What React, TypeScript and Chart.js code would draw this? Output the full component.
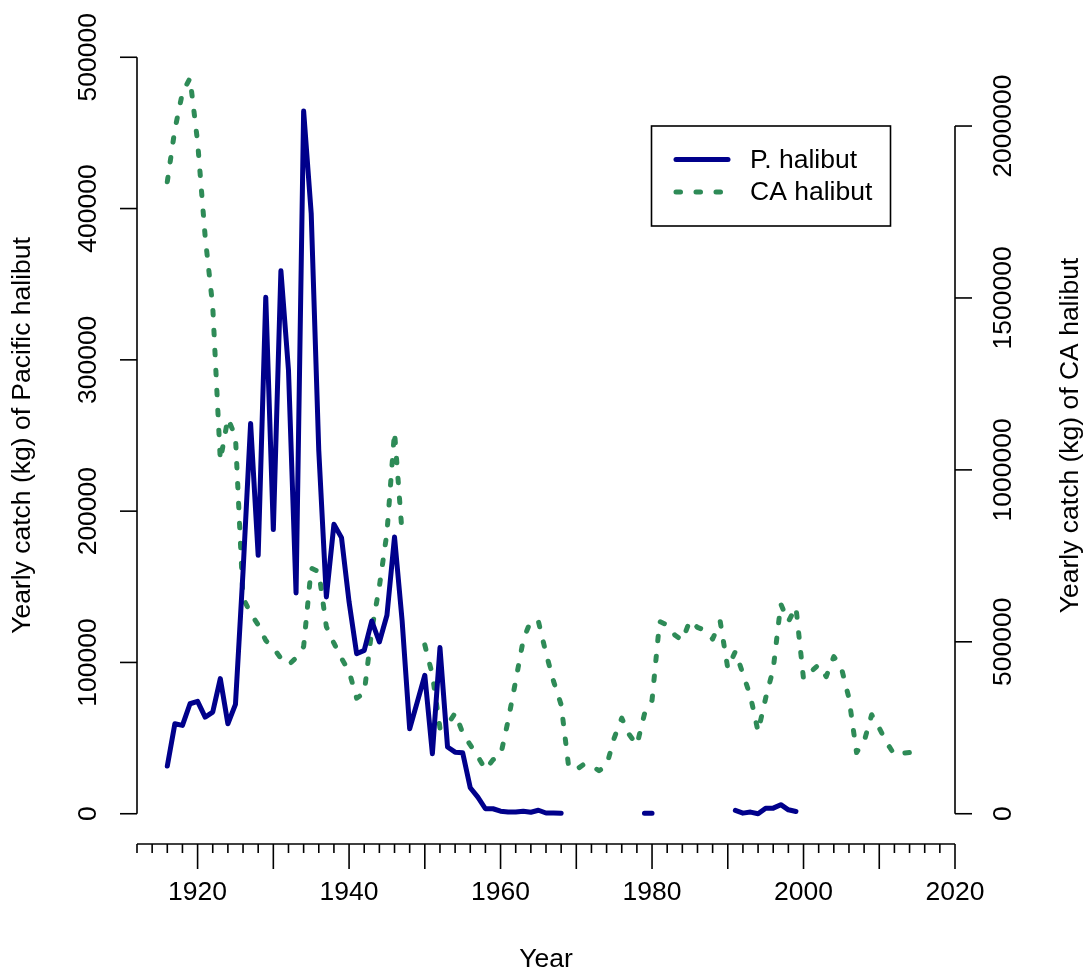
import React, { useEffect, useRef } from "react";
import { Chart, registerables } from "chart.js";

Chart.register(...registerables);

const years = [
  1916, 1917, 1918, 1919, 1920, 1921, 1922, 1923, 1924, 1925,
  1926, 1927, 1928, 1929, 1930, 1931, 1932, 1933, 1934, 1935,
  1936, 1937, 1938, 1939, 1940, 1941, 1942, 1943, 1944, 1945,
  1946, 1947, 1948, 1949, 1950, 1951, 1952, 1953, 1954, 1955,
  1956, 1957, 1958, 1959, 1960, 1961, 1962, 1963, 1964, 1965,
  1966, 1967, 1968, 1969, 1970, 1971, 1972, 1973, 1974, 1975,
  1976, 1977, 1978, 1979, 1980, 1981, 1982, 1983, 1984, 1985,
  1986, 1987, 1988, 1989, 1990, 1991, 1992, 1993, 1994, 1995,
  1996, 1997, 1998, 1999, 2000, 2001, 2002, 2003, 2004, 2005,
  2006, 2007, 2008, 2009, 2010, 2011, 2012, 2013, 2014,
];

const pacificHalibut = [
  31500, 59500, 58400, 72700, 74300, 63900, 67200, 89300, 59500, 72300,
  160000, 258000, 170800, 341300, 187800, 358900, 293200, 145900, 464500, 396800,
  240000, 143300, 191300, 182500, 140000, 105800, 108000, 127400, 113500, 131200,
  182900, 127800, 56200, 73800, 91500, 39700, 109800, 44100, 40700, 40300,
  17200, 11000, 3300, 3300, 1700, 1100, 1100, 1700, 1000, 2300,
  500, 500, 300, null, null, null, null, null, null, null,
  null, null, null, 300, 300, null, null, null, null, null,
  null, null, null, null, null, 2200, 400, 1100, 0, 3700,
  3700, 6000, 2600, 1500, null, null, null, null, null, null,
  null, null, null, null, null, null, null, null, null,
];

const caHalibut = [
  1838000, 1990000, 2097000, 2139000, 1954000, 1678000, 1475000, 1027000, 1150000, 1097000,
  627000, 583000, 549000, 504000, 482000, 452000, 433000, 453000, 486000, 714000,
  704000, 544000, 496000, 452000, 414000, 336000, 351000, 535000, 661000, 817000,
  1111000, 816000, null, null, 491000, 404000, 249000, 259000, 293000, 235000,
  200000, 167000, 128000, 157000, 169000, 271000, 387000, 506000, 562000, 559000,
  467000, 385000, 317000, 135000, 128000, 144000, 140000, 125000, 140000, 220000,
  278000, 230000, 200000, 290000, 330000, 559000, 549000, 520000, 504000, 562000,
  542000, 533000, 508000, 559000, 423000, 472000, 407000, 341000, 239000, 336000,
  421000, 610000, 559000, 601000, 392000, 414000, 433000, 399000, 457000, 424000,
  336000, 178000, 210000, 288000, 249000, 206000, 172000, 176000, 178000,
];

const xMinorTicks = [
  1912, 1914, 1916, 1918, 1920, 1922, 1924, 1926, 1928, 1930, 1932, 1934, 1936, 1938,
  1940, 1942, 1944, 1946, 1948, 1950, 1952, 1954, 1956, 1958, 1960, 1962, 1964, 1966,
  1968, 1970, 1972, 1974, 1976, 1978, 1980, 1982, 1984, 1986, 1988, 1990, 1992, 1994,
  1996, 1998, 2000, 2002, 2004, 2006, 2008, 2010, 2012, 2014, 2016, 2018, 2020,
];
const xMajorTicks = [1920, 1930, 1940, 1950, 1960, 1970, 1980, 1990, 2000, 2010, 2020];
const xLabelTicks = [1920, 1940, 1960, 1980, 2000, 2020];
const leftTicks = [0, 100000, 200000, 300000, 400000, 500000];
const rightTicks = [0, 500000, 1000000, 1500000, 2000000];

const seriesNames = ["P. halibut", "CA halibut"];
const xTitle = "Year";
const leftTitle = "Yearly catch (kg) of Pacific halibut";
const rightTitle = "Yearly catch (kg) of CA halibut";

const BLUE = "#00008B";
const GREEN = "#2E8B57";
const FONT = '26.5px "Liberation Sans", Arial, sans-serif';
const DASH = [4.5, 15.5];

const rAxesPlugin = {
  id: "rAxes",
  afterDraw(chart: any) {
    const ctx = chart.ctx;
    const sx = chart.scales.x;
    const sl = chart.scales.y;
    const sr = chart.scales.y1;
    const area = chart.chartArea;
    ctx.save();
    ctx.strokeStyle = "#000";
    ctx.fillStyle = "#000";
    ctx.lineWidth = 1.6;
    ctx.lineCap = "butt";
    ctx.font = FONT;

    // x axis
    const ay = area.bottom;
    ctx.beginPath();
    ctx.moveTo(sx.getPixelForValue(xMinorTicks[0]), ay);
    ctx.lineTo(sx.getPixelForValue(xMinorTicks[xMinorTicks.length - 1]), ay);
    ctx.stroke();
    xMinorTicks.forEach((t) => {
      const px = sx.getPixelForValue(t);
      const len = xMajorTicks.includes(t) ? 25 : 9;
      ctx.beginPath();
      ctx.moveTo(px, ay);
      ctx.lineTo(px, ay + len);
      ctx.stroke();
    });
    ctx.textAlign = "center";
    ctx.textBaseline = "middle";
    xLabelTicks.forEach((t) => {
      ctx.fillText(String(t), sx.getPixelForValue(t), 893);
    });
    ctx.fillText(xTitle, (area.left + area.right) / 2, 960);

    // left axis
    const lx = area.left;
    ctx.beginPath();
    ctx.moveTo(lx, sl.getPixelForValue(leftTicks[0]));
    ctx.lineTo(lx, sl.getPixelForValue(leftTicks[leftTicks.length - 1]));
    ctx.stroke();
    leftTicks.forEach((t) => {
      const py = sl.getPixelForValue(t);
      ctx.beginPath();
      ctx.moveTo(lx, py);
      ctx.lineTo(lx - 17, py);
      ctx.stroke();
      ctx.save();
      ctx.translate(89, py);
      ctx.rotate(-Math.PI / 2);
      ctx.fillText(String(t), 0, 0);
      ctx.restore();
    });
    ctx.save();
    ctx.translate(23, (area.top + area.bottom) / 2);
    ctx.rotate(-Math.PI / 2);
    ctx.fillText(leftTitle, 0, 0);
    ctx.restore();

    // right axis
    const rx = area.right;
    ctx.beginPath();
    ctx.moveTo(rx, sr.getPixelForValue(rightTicks[0]));
    ctx.lineTo(rx, sr.getPixelForValue(rightTicks[rightTicks.length - 1]));
    ctx.stroke();
    rightTicks.forEach((t) => {
      const py = sr.getPixelForValue(t);
      ctx.beginPath();
      ctx.moveTo(rx, py);
      ctx.lineTo(rx + 17, py);
      ctx.stroke();
      ctx.save();
      ctx.translate(1004, py);
      ctx.rotate(-Math.PI / 2);
      ctx.fillText(String(t), 0, 0);
      ctx.restore();
    });
    ctx.save();
    ctx.translate(1071, (area.top + area.bottom) / 2);
    ctx.rotate(-Math.PI / 2);
    ctx.fillText(rightTitle, 0, 0);
    ctx.restore();

    // legend
    const bx = 651.5, by = 126, bw = 239, bh = 100;
    ctx.fillStyle = "#fff";
    ctx.fillRect(bx, by, bw, bh);
    ctx.strokeStyle = "#000";
    ctx.lineWidth = 1.6;
    ctx.strokeRect(bx, by, bw, bh);
    const rows = [
      { y: 159.5, color: BLUE, dash: [] as number[], w: 5 },
      { y: 192, color: GREEN, dash: DASH, w: 5 },
    ];
    rows.forEach((r, i) => {
      ctx.save();
      ctx.strokeStyle = r.color;
      ctx.lineWidth = r.w;
      ctx.lineCap = "round";
      ctx.setLineDash(r.dash);
      ctx.beginPath();
      ctx.moveTo(676, r.y);
      ctx.lineTo(728, r.y);
      ctx.stroke();
      ctx.restore();
      ctx.fillStyle = "#000";
      ctx.textAlign = "left";
      ctx.textBaseline = "middle";
      ctx.fillText(seriesNames[i], 750, r.y + 1);
    });
    ctx.restore();
  },
};

export default function App() {
  const canvasRef = useRef<HTMLCanvasElement | null>(null);

  useEffect(() => {
    const canvas = canvasRef.current;
    if (!canvas) return;
    const chart = new Chart(canvas, {
      type: "line",
      data: {
        datasets: [
          {
            label: seriesNames[0],
            data: years.map((yr, i) => ({ x: yr, y: pacificHalibut[i] })),
            borderColor: BLUE,
            borderWidth: 5,
            borderJoinStyle: "round",
            borderCapStyle: "round",
            pointRadius: 0,
            spanGaps: false,
            tension: 0,
            yAxisID: "y",
          },
          {
            label: seriesNames[1],
            data: years.map((yr, i) => ({ x: yr, y: caHalibut[i] })),
            borderColor: GREEN,
            borderWidth: 5,
            borderDash: DASH,
            borderJoinStyle: "round",
            borderCapStyle: "round",
            pointRadius: 0,
            spanGaps: false,
            tension: 0,
            yAxisID: "y1",
          },
        ],
      },
      options: {
        responsive: false,
        animation: false,
        devicePixelRatio: 1,
        layout: { padding: { left: 137, right: 131, top: 27, bottom: 129 } },
        plugins: { legend: { display: false }, tooltip: { enabled: false } },
        scales: {
          x: { type: "linear", min: 1912, max: 2020, display: false },
          y: { type: "linear", min: -20000, max: 520000, display: false },
          y1: { type: "linear", min: -88000, max: 2288000, display: false },
        },
      },
      plugins: [rAxesPlugin],
    });
    return () => chart.destroy();
  }, []);

  return (
    <div style={{ position: "absolute", left: 0, top: 0, width: 1086, height: 973, background: "#fff" }}>
      <canvas ref={canvasRef} width={1086} height={973} style={{ width: 1086, height: 973 }} />
    </div>
  );
}
